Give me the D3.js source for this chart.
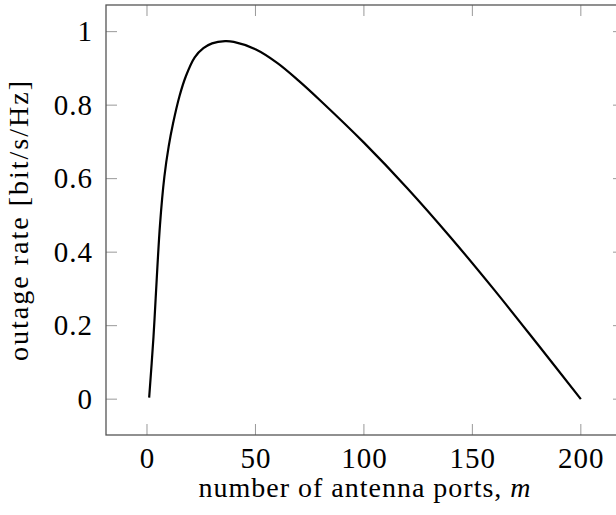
<!DOCTYPE html>
<html>
<head>
<meta charset="utf-8">
<script src="https://cdn.jsdelivr.net/npm/d3@7"></script>
<style>
  body { margin: 0; background: #fff; }
  text { font-family: "Liberation Serif", "DejaVu Serif", serif; fill: #000; }
</style>
</head>
<body>
<div id="chart"></div>
<script>
  // values
  const ports = [1, 3, 4, 6, 8, 10, 12, 15, 18, 22, 26, 30, 36, 40, 50, 60, 70, 80, 100, 120, 140, 160, 180, 200];
  const rate = [0.004, 0.17, 0.275, 0.475, 0.605, 0.688, 0.75, 0.825, 0.88, 0.93, 0.955, 0.968, 0.974, 0.972, 0.952, 0.915, 0.866, 0.812, 0.698, 0.574, 0.44, 0.298, 0.15, 0.0];
  const xTicks = [0, 50, 100, 150, 200];
  const yTicks = [0, 0.2, 0.4, 0.6, 0.8, 1];

  const width = 616, height = 515;
  const margin = { top: 5, left: 106, right: -8, bottom: 80 };

  const svg = d3.select('#chart').append('svg').attr('width', width).attr('height', height);

  const x = d3.scaleLinear().domain([-18.9, 219.9]).range([margin.left, width - margin.right]);
  const y = d3.scaleLinear().domain([-0.0975, 1.0725]).range([height - margin.bottom, margin.top]);

  const tickLen = 11;
  const g = svg.append('g');

  // ticks on all four sides, pointing inward
  xTicks.forEach((t) => {
    g.append('line').attr('x1', x(t)).attr('x2', x(t)).attr('y1', y.range()[0]).attr('y2', y.range()[0] - tickLen)
      .style('stroke', '#999').style('stroke-width', 1);
    g.append('line').attr('x1', x(t)).attr('x2', x(t)).attr('y1', y.range()[1]).attr('y2', y.range()[1] + tickLen)
      .style('stroke', '#999').style('stroke-width', 1);
  });
  yTicks.forEach((t) => {
    g.append('line').attr('y1', y(t)).attr('y2', y(t)).attr('x1', x.range()[0]).attr('x2', x.range()[0] + tickLen)
      .style('stroke', '#999').style('stroke-width', 1);
    g.append('line').attr('y1', y(t)).attr('y2', y(t)).attr('x1', x.range()[1]).attr('x2', x.range()[1] - tickLen)
      .style('stroke', '#999').style('stroke-width', 1);
  });

  const fmtY = (d) => (d === 0 || d === 1 ? String(d) : d3.format('.1f')(d));

  const xAxis = d3.axisBottom(x).tickValues(xTicks).tickSize(0).tickPadding(12);
  const yAxis = d3.axisLeft(y).tickValues(yTicks).tickSize(0).tickPadding(13).tickFormat(fmtY);

  const gx = svg.append('g').attr('transform', `translate(0,${y.range()[0]})`).call(xAxis);
  const gy = svg.append('g').attr('transform', `translate(${x.range()[0]},0)`).call(yAxis);
  [gx, gy].forEach((a) => {
    a.select('.domain').remove();
    a.selectAll('text').style('font-family', '"Liberation Serif", serif').style('font-size', '29px')
      .style('letter-spacing', '1px').style('fill', '#000');
  });

  // frame
  svg.append('rect')
    .attr('x', x.range()[0]).attr('y', y.range()[1])
    .attr('width', x.range()[1] - x.range()[0]).attr('height', y.range()[0] - y.range()[1])
    .style('fill', 'none').style('stroke', '#555').style('stroke-width', 1.3);

  const pts = ports.map((p, i) => [p, rate[i]]);
  const line = d3.line().x((d) => x(d[0])).y((d) => y(d[1])).curve(d3.curveCatmullRom.alpha(0.5));
  svg.append('path').datum(pts).attr('d', line)
    .style('fill', 'none').style('stroke', '#000').style('stroke-width', 2.2).style('stroke-linejoin', 'round');

  const xl = svg.append('text')
    .attr('x', (x.range()[0] + x.range()[1]) / 2).attr('y', 497)
    .attr('text-anchor', 'middle').style('font-size', '28px').style('letter-spacing', '1px');
  xl.append('tspan').text('number of antenna ports, ');
  xl.append('tspan').style('font-style', 'italic').text('m');

  svg.append('text')
    .attr('transform', `translate(28,${(y.range()[0] + y.range()[1]) / 2}) rotate(-90)`)
    .attr('text-anchor', 'middle').style('font-size', '28px').style('letter-spacing', '2px')
    .text('outage rate [bit/s/Hz]');
</script>
</body>
</html>
